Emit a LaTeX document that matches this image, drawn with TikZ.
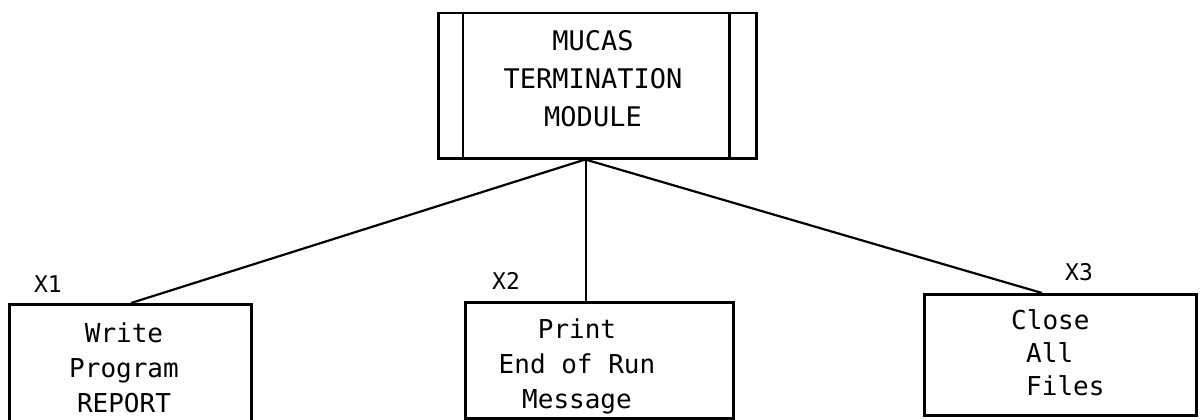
\documentclass[tikz,border=0pt]{standalone}
\usepackage{fontspec}
\setmonofont{DejaVu Sans Mono}
\usetikzlibrary{calc}
\begin{document}
\begin{tikzpicture}[x=1pt,y=-1pt,
  box/.style={draw, line width=2.5pt, inner sep=0pt},
  txt/.style={font=\ttfamily\fontsize{26}{35}\selectfont, align=center, inner sep=0pt},
  lefttxt/.style={font=\ttfamily\fontsize{26}{33}\selectfont, align=left, inner sep=0pt},
  toptxt/.style={font=\ttfamily\fontsize{27}{38}\selectfont, align=center, inner sep=0pt},
  tag/.style={font=\ttfamily\fontsize{23}{23}\selectfont, inner sep=0pt},
  link/.style={line width=2.2pt}]
\useasboundingbox (0,0) rectangle (1200,420);

% module box with double side bars
\node[box, minimum width=318pt, minimum height=145pt, anchor=north west] (top) at (437,12) {};
\draw[box] ($(top.north west)+(26,0)$) -- ($(top.south west)+(26,0)$);
\draw[box] ($(top.north east)+(-28,0)$) -- ($(top.south east)+(-28,0)$);
\node[toptxt] (toplbl) at (593,79) {MUCAS\\TERMINATION\\MODULE};

% sub-module boxes
\node[box, minimum width=242pt, minimum height=130pt, anchor=north west] (b1) at (8,303) {};
\node[box, minimum width=268pt, minimum height=116pt, anchor=north west] (b2) at (464,301) {};
\node[box, minimum width=272pt, minimum height=121pt, anchor=north west] (b3) at (923,293) {};

\node[txt] (t1) at (124,368) {Write\\Program\\REPORT};
\node[txt] (t2) at (577,366) {Print\\End of Run\\Message};
\node[lefttxt, anchor=west] (t3) at (1011,353) {Close\\\hspace*{15pt}All\\\hspace*{15pt}Files};

\node[tag] (x1) at (48,284) {X1};
\node[tag] (x2) at (506,281) {X2};
\node[tag] (x3) at (1079,272) {X3};

% connectors
\coordinate (hub) at ($(top.south)+(-12,0)$);
\coordinate (in1) at ($(b1.north west)+(123,0)$);
\coordinate (in2) at ($(b2.north west)+(122,0)$);
\coordinate (in3) at ($(b3.north west)+(119,0)$);
\draw[link] (hub) -- (in1);
\draw[link, line width=1.6pt] (in2 |- top.south) -- (in2);
\draw[link] (hub) -- (in3);
\end{tikzpicture}
\end{document}
